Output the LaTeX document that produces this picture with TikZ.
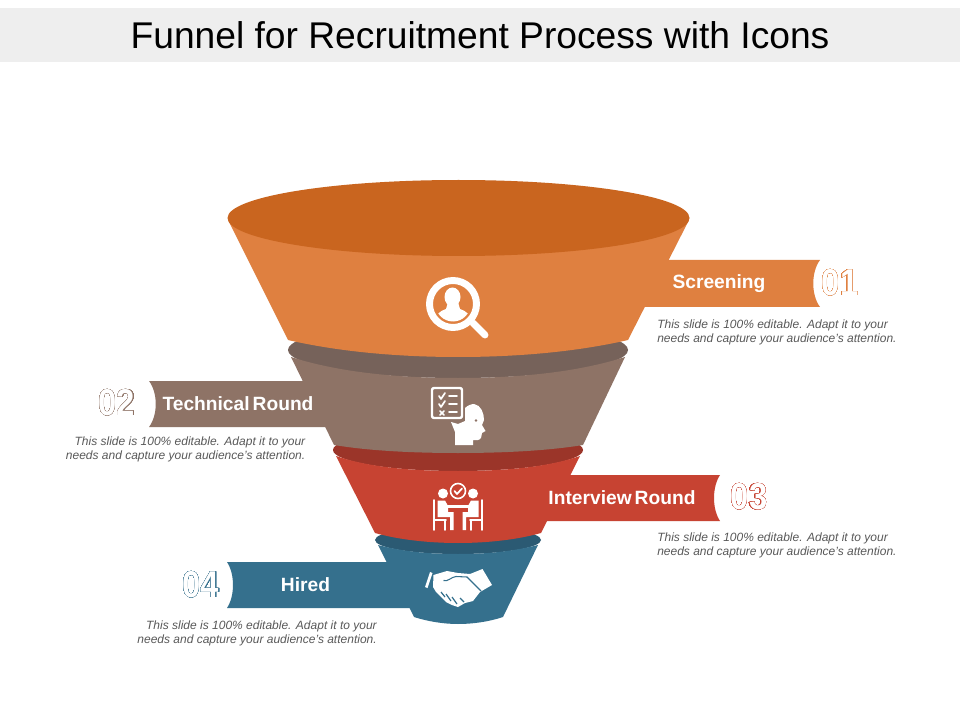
\documentclass[tikz,border=0pt]{standalone}
\usepackage{fontspec}
\usepackage{contour}
\setmainfont{Liberation Sans}
\contourlength{0.2pt}
\contournumber{24}
\definecolor{orangeT}{HTML}{C9651F}
\definecolor{orangeB}{HTML}{DF8040}
\definecolor{brownT}{HTML}{76625A}
\definecolor{brownB}{HTML}{8E7366}
\definecolor{redT}{HTML}{9B3529}
\definecolor{redB}{HTML}{C74332}
\definecolor{blueT}{HTML}{2B5A73}
\definecolor{blueB}{HTML}{35708D}
\definecolor{bodytext}{HTML}{595959}
\tikzset{
  bandlabel/.style={text=white,font=\fontsize{14.4pt}{16pt}\selectfont\bfseries,inner sep=0pt},
  note/.style={text=bodytext,font=\fontsize{9pt}{10.6pt}\selectfont\itshape,inner sep=0pt,align=#1},
  numlabel/.style={font=\fontsize{28pt}{29pt}\selectfont\bfseries,inner sep=0pt},
  icon/.style={fill=white,draw=none},
  iconline/.style={draw=white,line cap=round,line join=round},
}
\newcommand{\outl}[2]{\scalebox{.88}[1]{\contour{#1}{\textcolor{white}{#2}}}}
\begin{document}
\begin{tikzpicture}[x=.75pt,y=-.75pt]
\useasboundingbox (0,0) rectangle (960,720);
\fill[white] (0,0) rectangle (960,720);
\fill[black!6.5] (0,8) rectangle (960,62);
\node[inner sep=0pt,font=\fontsize{27.9pt}{30pt}\selectfont] (title) at (480,35) {Funnel for Recruitment Process with Icons};

% level 4
\fill[blueB] (227,562) -- (420,562) -- (420,608) -- (227,608) .. controls (235,596) and (235,574) .. (227,562) -- cycle;
\fill[blueT] (458,540) ellipse [x radius=83, y radius=14];
\fill[blueB] (378,545) -- (414,617) .. controls (430,622) and (445,624) .. (458,624) .. controls (472,624) and (488,622) .. (503,617) -- (538,545) .. controls (510,552) and (485,554) .. (458,554) .. controls (430,554) and (405,552) .. (378,545) -- cycle;
% level 3
\fill[redB] (480,475) -- (720,475) .. controls (712,487) and (712,509) .. (720,521) -- (480,521) -- cycle;
\fill[redT] (458,450) ellipse [x radius=125, y radius=21];
\fill[redB] (336,456) -- (375,533) .. controls (400,540) and (430,543) .. (458,543) .. controls (486,543) and (516,540) .. (541,533) -- (580,456) .. controls (545,468) and (500,471) .. (458,471) .. controls (416,471) and (371,468) .. (336,456) -- cycle;
% level 2
\fill[brownB] (149,381) -- (340,381) -- (340,427) -- (149,427) .. controls (158,415) and (158,393) .. (149,381) -- cycle;
\fill[brownT] (458,350) ellipse [x radius=170, y radius=28];
\fill[brownB] (291,357) -- (334,445) .. controls (370,451) and (415,453) .. (458,453) .. controls (501,453) and (546,451) .. (583,445) -- (625,357) .. controls (575,373) and (515,378) .. (458,378) .. controls (401,378) and (341,373) .. (291,357) -- cycle;
% level 1
\fill[orangeB] (640,260) -- (820,260) .. controls (811,272) and (811,295) .. (820,307) -- (620,307) -- cycle;
\fill[orangeB] (228,220) -- (288,340) .. controls (340,352) and (400,357) .. (458,357) .. controls (516,357) and (576,352) .. (628,340) -- (689,220) -- cycle;
\fill[orangeT] (458.5,218) ellipse [x radius=231, y radius=38];

% icon 1: magnifier with person
\begin{scope}
  \clip (453,304) circle [radius=17.5];
  \fill[white] (452.5,297) ellipse [x radius=8, y radius=9.5];
  \fill[white] (448,302) -- (458,302) -- (460,309) .. controls (466,311) and (470,314) .. (472,322) -- (434,322) .. controls (436,314) and (440,311) .. (446,309) -- cycle;
\end{scope}
\draw[white,line width=5.2pt] (453,304) circle [radius=23.5];
\draw[iconline,line width=5.2pt] (473,323) -- (485,335);

% icon 2: checklist and head
\draw[iconline,line width=1.8pt,rounded corners=1.5pt] (432,388) rectangle (462,418);
\draw[iconline,line width=1.3pt] (439,396) -- (441,399) -- (445,393) (439,404) -- (441,407) -- (445,401);
\draw[iconline,line width=1.3pt] (440,411) -- (444,415) (444,411) -- (440,415);
\draw[iconline,line width=1.3pt] (449,396) -- (457,396) (449,404) -- (457,404) (449,412) -- (457,412);
\fill[icon] (455,445) -- (455,432) -- (451,422) -- (458,424) -- (465,421) -- (465,408) .. controls (468,405) and (472,404) .. (474,404) .. controls (481,405) and (484,413) .. (484,420) -- (482,425) -- (485.5,431) -- (482,433) -- (481,438) .. controls (479,441) and (476,440) .. (473,440) -- (473,445) -- cycle;
\fill[brownB] (476,420.5) circle [radius=1.4];

% icon 3: interview
\fill[icon] (443,493.5) circle [radius=5];
\fill[icon] (473,493.5) circle [radius=5];
\draw[white,line width=1.2pt] (458,491) circle [radius=7.5];
\draw[iconline,line width=1.3pt] (454.5,491) -- (457,494) -- (462,488.5);
\fill[icon] (437.5,500.5) -- (445,500.5) -- (448,506) -- (448,512) -- (453.5,512) -- (453.5,530) -- (450,530) -- (450,517) -- (437.5,517) -- cycle;
\fill[icon] (478.5,500.5) -- (471,500.5) -- (468,506) -- (468,512) -- (462.5,512) -- (462.5,530) -- (466,530) -- (466,517) -- (478.5,517) -- cycle;
\fill[icon] (446,505) rectangle (470,507.5);
\draw[iconline,line width=1.2pt] (434,500) -- (434,530) (434,520) -- (446,520) (445,520) -- (445,530);
\draw[iconline,line width=1.2pt] (482,500) -- (482,530) (482,520) -- (470,520) (471,520) -- (471,530);

% icon 4: handshake
\fill[icon] (425,587) -- (430,572) -- (432.5,573) -- (427.5,588) -- cycle;
\fill[icon] (433.5,575) -- (447,571) -- (458,573) -- (470,574) -- (482.5,569) -- (492,585) -- (480,592) -- (473,601) -- (465,603) -- (458,607) -- (452,605) -- (446,602) -- (441,597) -- (436,592) -- (433,587) -- cycle;
\draw[blueB,line width=.8pt] (481,591) -- (467,577) -- (456,576.5) .. controls (451,577) and (448,582) .. (443.5,580.5);
\draw[blueB,line width=.9pt] (441,592) -- (445,597) (446,594) -- (451,601) (452,597) -- (457,604) (460,598) -- (464,602);

% band labels
\node[bandlabel] (screening) at (719,283.5) {Screening};
\node[bandlabel] (technical) at (238,403.5) {Technical\hspace{-.12em} Round};
\node[bandlabel] (interview) at (622,497.5) {Interview\hspace{-.12em} Round};
\node[bandlabel] (hired) at (305.5,584.5) {Hired};

% outlined numbers
\node[numlabel] (n1) at (840,283) {\outl{orangeB}{01}};
\node[numlabel] (n2) at (117,403) {\outl{brownB}{02}};
\node[numlabel] (n3) at (749,497) {\outl{redB}{03}};
\node[numlabel] (n4) at (201,585) {\outl{blueB}{04}};

% notes
\node[note=left,anchor=west] (t1) at (657,332) {This slide is 100\% editable. Adapt it to your\\needs and capture your audience's attention.};
\node[note=right,anchor=east] (t2) at (305.5,449) {This slide is 100\% editable. Adapt it to your\\needs and capture your audience's attention.};
\node[note=left,anchor=west] (t3) at (657,545.5) {This slide is 100\% editable. Adapt it to your\\needs and capture your audience's attention.};
\node[note=right,anchor=east] (t4) at (377,633.5) {This slide is 100\% editable. Adapt it to your\\needs and capture your audience's attention.};
\end{tikzpicture}
\end{document}
